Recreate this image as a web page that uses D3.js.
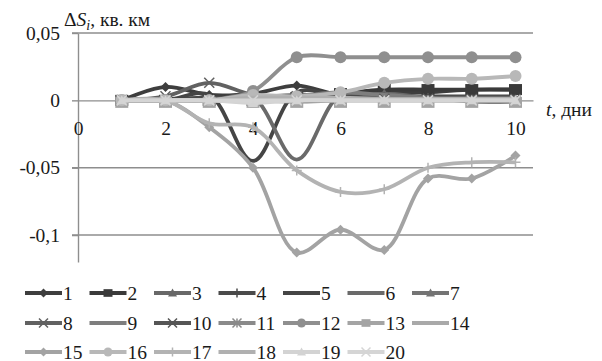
<!DOCTYPE html>
<html><head><meta charset="utf-8">
<script src="https://cdn.jsdelivr.net/npm/d3@7"></script>
<style>
html,body{margin:0;padding:0;background:#fff;}
svg{display:block;}
svg text{font-family:'Liberation Serif','DejaVu Serif',serif !important;fill:#1a1a1a;}
</style></head>
<body>
<svg id="chart" width="602" height="361"></svg>
<script>
// ---- data ----
const days = [1, 2, 3, 4, 5, 6, 7, 8, 9, 10];
const xTicks = [0, 2, 4, 6, 8, 10];
const yTicks = [0.05, 0, -0.05, -0.1];
const seriesNames = ["1","2","3","4","5","6","7","8","9","10","11","12","13","14","15","16","17","18","19","20"];

const s1  = [0, 0.010, 0.004, 0.005, 0.011, 0.004, 0.006, 0.006, 0.008, 0.008];
const s2  = [0, 0, 0, 0, 0.002, 0.005, 0.008, 0.008, 0.008, 0.008];
const s3  = [0, 0, 0, 0.002, 0.004, 0.002, 0.005, 0.002, 0, 0];
const s4  = [0, 0.001, 0.002, 0.001, 0.001, 0.001, 0.002, 0.001, 0.001, 0.001];
const s5  = [0, 0, 0.004, -0.045, 0.006, 0.003, 0.003, 0.003, 0.003, 0.003];
const s6  = [0, 0, 0, 0.002, -0.044, 0.004, 0.002, 0.002, 0.002, 0.002];
const s7  = [0, 0, 0, 0.003, 0.002, 0.001, 0.001, 0, 0, 0];
const s8  = [0, 0.003, 0.013, 0.004, 0.003, 0.002, 0.002, 0.001, 0.001, 0.001];
const s9  = [0, 0, 0, 0.001, 0.003, 0.006, 0.004, 0.002, -0.001, -0.001];
const s10 = [0, 0, 0, 0, 0, 0, 0.001, 0.001, 0, 0];
const s11 = [0, 0, 0, 0, -0.001, 0, 0, 0, 0, 0];
const s12 = [0, 0, 0, 0.007, 0.032, 0.032, 0.032, 0.032, 0.032, 0.032];
const s13 = [0, 0, 0, 0, 0, 0, 0, 0, 0, 0];
const s14 = [0, 0, 0, 0.001, 0.001, 0.001, 0.001, 0.001, 0.001, 0.001];
const s15 = [0, 0, -0.020, -0.050, -0.113, -0.096, -0.111, -0.058, -0.058, -0.041];
const s16 = [0, 0, 0, 0.004, 0.003, 0.006, 0.013, 0.016, 0.016, 0.018];
const s17 = [0, 0, -0.017, -0.020, -0.052, -0.068, -0.066, -0.050, -0.046, -0.046];
const s18 = [0, 0, 0, 0.002, 0.002, 0.002, 0.001, 0.001, 0.001, 0.001];
const s19 = [0, 0, 0, -0.002, 0, 0, 0, 0, 0, 0];
const s20 = [0, 0, 0, 0, 0, 0, 0, 0, 0, 0];

const allValues = [s1,s2,s3,s4,s5,s6,s7,s8,s9,s10,s11,s12,s13,s14,s15,s16,s17,s18,s19,s20];

// ---- styles ----
const colors = ["#3e3e3e","#3a3a3a","#686868","#4a4a4a","#454545","#6a6a6a","#747474",
                "#616161","#7e7e7e","#555555","#8a8a8a","#8f8f8f","#a4a4a4","#a9a9a9",
                "#a3a3a3","#b8b8b8","#b3b3b3","#b0b0b0","#d3d3d3","#d5d5d5"];
const markers = ["diamond","square","triangle","plus","none","none","triangle",
                 "x","none","x","asterisk","circle","square","none",
                 "diamond","circle","plus","none","triangle","x"];

const FONT = "'Liberation Serif','DejaVu Serif',serif";
const svg = d3.select("#chart");

const x = d3.scaleLinear().domain([0, 10.4]).range([78, 533]);
const y = d3.scaleLinear().domain([-0.12, 0.05]).range([262, 33]);

const fmt = d => d === 0 ? "0" : String(d).replace(".", ",");

// gridlines
svg.append("g").selectAll("line").data(yTicks.filter(d => d !== 0)).join("line")
  .attr("x1", x(0) - 6).attr("x2", x(10.4))
  .attr("y1", d => y(d)).attr("y2", d => y(d))
  .attr("stroke", "#8e8e8e").attr("stroke-width", 1.4);

// y axis
const yAxis = svg.append("g").attr("transform", `translate(${x(0)},0)`)
  .call(d3.axisLeft(y).tickValues(yTicks).tickFormat(fmt).tickSize(6).tickSizeOuter(0).tickPadding(12));
yAxis.attr("font-family", FONT).attr("font-size", 19);
yAxis.select(".domain").attr("stroke", "#8e8e8e").attr("stroke-width", 1.4);
yAxis.selectAll(".tick line").attr("stroke", "#8e8e8e").attr("stroke-width", 1.4);
yAxis.selectAll("text").style("font-family", FONT).style("font-size", "19.5px").attr("fill", "#1a1a1a");

// x axis at y = 0
const xAxis = svg.append("g").attr("transform", `translate(0,${y(0)})`)
  .call(d3.axisBottom(x).tickValues(xTicks).tickFormat(d3.format("d")).tickSize(0).tickSizeOuter(0).tickPadding(21));
xAxis.attr("font-family", FONT).attr("font-size", 19);
xAxis.select(".domain").attr("stroke", "#8e8e8e").attr("stroke-width", 1.4);
xAxis.selectAll("text").style("font-family", FONT).style("font-size", "19.5px").attr("fill", "#1a1a1a");

// axis titles
const yt = svg.append("text").attr("x", 64).attr("y", 26).style("font-family", FONT).style("font-size", "19.5px");
yt.append("tspan").text("Δ");
yt.append("tspan").attr("font-style", "italic").text("S");
yt.append("tspan").attr("font-style", "italic").style("font-size", "14px").attr("dy", 4).text("i");
yt.append("tspan").attr("dy", -4).text(", кв. км");

const xt = svg.append("text").attr("x", 546).attr("y", 116).style("font-family", FONT).style("font-size", "19.5px");
xt.append("tspan").attr("font-style", "italic").text("t");
xt.append("tspan").text(", дни");

// marker path
function markerPath(type, s) {
  const h = s / 2;
  switch (type) {
    case "diamond": return `M0,${-h}L${h},0L0,${h}L${-h},0Z`;
    case "square": return `M${-h},${-h*0.85}H${h}V${h*0.85}H${-h}Z`;
    case "triangle": return `M0,${-h}L${h},${h*0.8}L${-h},${h*0.8}Z`;
    case "plus": return `M${-h},0H${h}M0,${-h}V${h}`;
    case "x": return `M${-h},${-h}L${h},${h}M${-h},${h}L${h},${-h}`;
    case "asterisk": return `M${-h},${-h}L${h},${h}M${-h},${h}L${h},${-h}M0,${-h}V${h}`;
    case "circle": return d3.symbol(d3.symbolCircle, Math.PI * h * h)();
    default: return null;
  }
}
const strokeMarker = t => t === "plus" || t === "x" || t === "asterisk";

const line = d3.line().x(d => x(d[0])).y(d => y(d[1])).curve(d3.curveCatmullRom.alpha(0.5));

const plot = svg.append("g");
allValues.forEach((vals, i) => {
  const pts = days.map((d, j) => [d, vals[j]]);
  const g = plot.append("g");
  g.append("path").attr("d", line(pts)).attr("fill", "none")
    .attr("stroke", colors[i]).attr("stroke-width", 3.8).attr("stroke-linejoin", "round");
  const mt = markers[i];
  if (mt !== "none") {
    const size = mt === "circle" ? 12 : (mt === "square" ? 13 : 10);
    g.selectAll("path.m").data(pts).join("path").attr("class", "m")
      .attr("transform", d => `translate(${x(d[0])},${y(d[1]) + (mt === "square" && i === 12 ? 2 : 0)})`)
      .attr("d", markerPath(mt, size))
      .attr("fill", strokeMarker(mt) ? "none" : colors[i])
      .attr("stroke", colors[i]).attr("stroke-width", strokeMarker(mt) ? 1.5 : 0);
  }
});

// legend
const legend = svg.append("g");
const rowsY = [293, 323, 352];
seriesNames.forEach((name, i) => {
  const col = i % 7, row = Math.floor(i / 7);
  const lx = 25 + col * 64.5, ly = rowsY[row];
  const g = legend.append("g");
  g.append("line").attr("x1", lx).attr("x2", lx + 37).attr("y1", ly).attr("y2", ly)
    .attr("stroke", colors[i]).attr("stroke-width", 3.8);
  const mt = markers[i];
  if (mt !== "none") {
    g.append("path").attr("transform", `translate(${lx + 18.5},${ly})`)
      .attr("d", markerPath(mt, 9))
      .attr("fill", strokeMarker(mt) ? "none" : colors[i])
      .attr("stroke", colors[i]).attr("stroke-width", strokeMarker(mt) ? 1.5 : 0);
  }
  g.append("text").attr("x", lx + 38).attr("y", ly + 6.5)
    .style("font-family", FONT).style("font-size", "19.5px").text(name);
});
</script>
</body></html>
